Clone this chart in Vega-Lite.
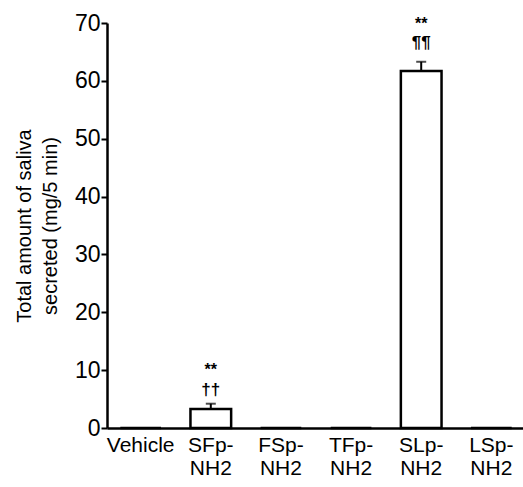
{
  "$schema": "https://vega.github.io/schema/vega-lite/v6.json",
  "width": 418,
  "height": 405,
  "autosize": {"type": "none"},
  "padding": {"left": 107, "top": 23, "right": 0, "bottom": 59},
  "background": "white",
  "config": {"view": {"stroke": null}, "font": "Liberation Sans"},
  "data": {"values": [
    {"group": "Vehicle", "mean": 0, "upper": 0, "sig1": "", "sig2": "", "p1": 0, "p2": 0},
    {"group": "SFp-|NH2", "mean": 3.3, "upper": 4.2, "sig1": "**", "sig2": "††", "p1": 10.0, "p2": 6.6},
    {"group": "FSp-|NH2", "mean": 0, "upper": 0, "sig1": "", "sig2": "", "p1": 0, "p2": 0},
    {"group": "TFp-|NH2", "mean": 0, "upper": 0, "sig1": "", "sig2": "", "p1": 0, "p2": 0},
    {"group": "SLp-|NH2", "mean": 61.7, "upper": 63.3, "sig1": "**", "sig2": "¶¶", "p1": 69.8, "p2": 66.6},
    {"group": "LSp-|NH2", "mean": 0, "upper": 0, "sig1": "", "sig2": "", "p1": 0, "p2": 0}
  ]},
  "encoding": {
    "x": {
      "field": "group", "type": "nominal", "sort": null,
      "scale": {"paddingInner": 0.42, "paddingOuter": 0.19},
      "axis": {
        "title": null, "labelAngle": 0, "ticks": false, "domainColor": "black", "domainWidth": 2.5,
        "labelFontSize": 21, "labelColor": "black", "labelPadding": 6, "labelLineHeight": 23,
        "labelExpr": "split(datum.label, '|')"
      }
    }
  },
  "layer": [
    {
      "mark": {"type": "bar", "fill": "white", "stroke": "black", "strokeWidth": 2.5},
      "encoding": {
        "y": {
          "field": "mean", "type": "quantitative",
          "scale": {"domain": [0, 70], "nice": false},
          "axis": {
            "values": [0, 10, 20, 30, 40, 50, 60, 70], "grid": false,
            "title": ["Total amount of saliva", "secreted (mg/5 min)"],
            "titleFontSize": 20, "titleFontWeight": "normal", "titleColor": "black", "titlePadding": 14,
            "titleLineHeight": 26,
            "labelFontSize": 23, "labelColor": "black", "labelPadding": 1,
            "tickColor": "black", "tickSize": 6, "tickWidth": 2,
            "domainColor": "black", "domainWidth": 2.5
          }
        }
      }
    },
    {
      "transform": [{"filter": "datum.upper > 0"}],
      "mark": {"type": "rule", "color": "black", "strokeWidth": 2},
      "encoding": {"y": {"field": "mean", "type": "quantitative"}, "y2": {"field": "upper"}}
    },
    {
      "transform": [{"filter": "datum.upper > 0"}],
      "mark": {"type": "tick", "color": "black", "thickness": 2, "size": 10},
      "encoding": {"y": {"field": "upper", "type": "quantitative"}}
    },
    {
      "transform": [{"filter": "datum.upper > 0"}],
      "mark": {"type": "text", "fontSize": 16, "fontWeight": "bold", "color": "black", "baseline": "middle"},
      "encoding": {"y": {"field": "p1", "type": "quantitative"}, "text": {"field": "sig1"}}
    },
    {
      "transform": [{"filter": "datum.upper > 0"}],
      "mark": {"type": "text", "fontSize": 17, "fontWeight": "bold", "color": "black", "baseline": "middle"},
      "encoding": {"y": {"field": "p2", "type": "quantitative"}, "text": {"field": "sig2"}}
    }
  ]
}
